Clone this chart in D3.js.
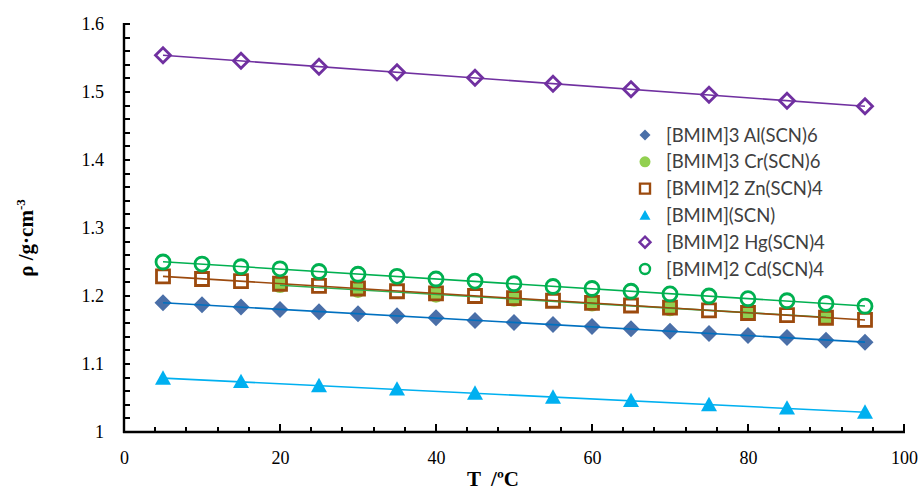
<!DOCTYPE html>
<html><head><meta charset="utf-8">
<script src="https://cdn.jsdelivr.net/npm/d3@7"></script>
<style>body{margin:0;background:#fff} text{white-space:pre}</style>
</head><body>
<svg id="c" width="921" height="491"></svg>
<script>
const T19 = [5,10,15,20,25,30,35,40,45,50,55,60,65,70,75,80,85,90,95];
const T10 = [5,15,25,35,45,55,65,75,85,95];
const T_Cr = [20,30,40,50,60,70,80,90];
const rhoAl = [1.190,1.187,1.184,1.180,1.177,1.174,1.171,1.168,1.164,1.161,1.158,1.155,1.152,1.148,1.145,1.142,1.139,1.135,1.132];
const rhoCr = [1.216,1.209,1.202,1.196,1.189,1.182,1.175,1.169];
const rhoZn = [1.229,1.225,1.222,1.218,1.215,1.211,1.207,1.204,1.200,1.197,1.193,1.190,1.186,1.183,1.179,1.175,1.172,1.168,1.165];
const rhoSCN = [1.079,1.074,1.068,1.063,1.057,1.051,1.046,1.040,1.035,1.029];
const rhoHg = [1.554,1.546,1.537,1.529,1.521,1.512,1.504,1.496,1.487,1.479];
const rhoCd = [1.250,1.247,1.243,1.240,1.236,1.232,1.229,1.225,1.222,1.218,1.214,1.211,1.207,1.203,1.200,1.196,1.193,1.189,1.185];
const names = ["[BMIM]3 Al(SCN)6","[BMIM]3 Cr(SCN)6","[BMIM]2 Zn(SCN)4","[BMIM](SCN)","[BMIM]2 Hg(SCN)4","[BMIM]2 Cd(SCN)4"];
const xTicks = [0,20,40,60,80,100];
const yTicks = [1,1.1,1.2,1.3,1.4,1.5,1.6];

const series = [
  {name:names[0], xs:T19, ys:rhoAl, shape:"diamond", fill:"#4a6fa8", stroke:"none", line:"#0070c0", size:17, lsize:11},
  {name:names[1], xs:T_Cr, ys:rhoCr, shape:"circle", fill:"#92d050", stroke:"none", line:"#2fb04f", size:16, lsize:11},
  {name:names[2], xs:T19, ys:rhoZn, shape:"square", fill:"none", stroke:"#9c4a0e", line:"#9c4a0e", size:15, lsize:10},
  {name:names[3], xs:T10, ys:rhoSCN, shape:"triangle", fill:"#00b0f0", stroke:"none", line:"#00b0f0", size:16, lsize:11},
  {name:names[4], xs:T10, ys:rhoHg, shape:"diamond", fill:"none", stroke:"#7030a0", line:"#7030a0", size:17, lsize:11},
  {name:names[5], xs:T19, ys:rhoCd, shape:"circle", fill:"none", stroke:"#00b050", line:"#00b050", size:16, lsize:10}
];

const svg = d3.select("#c");
const x = d3.scaleLinear().domain([0,100]).range([124,904]);
const y = d3.scaleLinear().domain([1,1.6]).range([432,24]);

function shapePath(shape, s){
  const h = s/2;
  if(shape==="diamond") return `M0,${-h}L${h},0L0,${h}L${-h},0Z`;
  if(shape==="square") return `M${-h},${-h}H${h}V${h}H${-h}Z`;
  if(shape==="triangle") return `M0,${-h}L${h},${h*0.8}L${-h},${h*0.8}Z`;
  return null;
}
function drawMarker(g, shape, s, fill, stroke, sw){
  if(shape==="circle"){
    return g.append("circle").attr("r", s/2).attr("fill",fill).attr("stroke",stroke).attr("stroke-width",sw);
  }
  return g.append("path").attr("d", shapePath(shape,s)).attr("fill",fill).attr("stroke",stroke).attr("stroke-width",sw);
}

// markers
series.forEach(s=>{
  const g = svg.append("g");
  s.xs.forEach((t,i)=>{
    const m = g.append("g").attr("transform",`translate(${x(t)},${y(s.ys[i])})`);
    const sw = s.stroke==="none"?0:2.8;
    drawMarker(m, s.shape, s.stroke==="none"?s.size:s.size-2, s.fill, s.stroke, sw);
  });
});

// trendlines (least squares)
series.forEach(s=>{
  const mx = d3.mean(s.xs), my = d3.mean(s.ys);
  let num=0, den=0;
  s.xs.forEach((t,i)=>{num+=(t-mx)*(s.ys[i]-my); den+=(t-mx)*(t-mx);});
  const b = num/den, a = my-b*mx;
  const x0 = d3.min(s.xs), x1 = d3.max(s.xs);
  svg.append("line").attr("x1",x(x0)).attr("y1",y(a+b*x0)).attr("x2",x(x1)).attr("y2",y(a+b*x1))
    .attr("stroke",s.line).attr("stroke-width",1.6);
});

// axes: ticks drawn inward
const ticksG = svg.append("g").attr("stroke","#000").attr("stroke-width",2).attr("shape-rendering","crispEdges");
const xMinor = d3.range(0,101,4);
ticksG.selectAll("line.xt").data(xMinor).join("line").attr("class","xt")
  .attr("x1",d=>x(d)).attr("x2",d=>x(d)).attr("y1",432).attr("y2",d=>xTicks.includes(d)?424:427);
const yMinor = d3.range(0,31).map(i=>+(1+i*0.02).toFixed(2));
ticksG.selectAll("line.yt").data(yMinor).join("line").attr("class","yt")
  .attr("x1",124).attr("x2",130).attr("y1",d=>y(d)).attr("y2",d=>y(d));

const axM = svg.append("g").attr("transform","translate(0,432)");
axM.call(d3.axisBottom(x).tickValues(xTicks).tickSize(0).tickPadding(19).tickFormat(d3.format("d")));
axM.selectAll("text").attr("font-family","Liberation Serif").attr("font-size",18).attr("fill","#000");
const ayM = svg.append("g").attr("transform","translate(124,0)");
ayM.call(d3.axisLeft(y).tickValues(yTicks).tickSize(0).tickPadding(20).tickFormat(d=>d===1?"1":d3.format(".1f")(d)));
ayM.selectAll("text").attr("font-family","Liberation Serif").attr("font-size",18).attr("fill","#000");
svg.selectAll(".domain").remove();
svg.append("line").attr("x1",124).attr("x2",124).attr("y1",y(1.6)-1).attr("y2",433).attr("stroke","#000").attr("stroke-width",2.4);
svg.append("line").attr("x1",123).attr("x2",x(100)+1).attr("y1",432).attr("y2",432).attr("stroke","#000").attr("stroke-width",2.4);

// axis titles
svg.append("text").attr("x",493).attr("y",486).attr("text-anchor","middle")
  .attr("font-family","Liberation Serif").attr("font-weight","bold").attr("font-size",21).text("T  /ºC");
const yt = svg.append("text").attr("transform","translate(33,238) rotate(-90)").attr("text-anchor","middle")
  .attr("font-family","Liberation Serif").attr("font-weight","bold").attr("font-size",21);
yt.append("tspan").text("ρ /g·cm");
yt.append("tspan").attr("dy",-8).attr("font-size",13).text("-3");

// legend
const lg = svg.append("g");
series.forEach((s,i)=>{
  const yy = 135 + i*26.8;
  const m = lg.append("g").attr("transform",`translate(645,${yy})`);
  drawMarker(m, s.shape, s.lsize, s.fill, s.stroke, s.stroke==="none"?0:2.4);
  lg.append("text").attr("x",666).attr("y",yy+6.5).attr("font-family","Lato").attr("font-size",18.5)
    .attr("fill","#404040").text(s.name);
});
</script>
</body></html>
